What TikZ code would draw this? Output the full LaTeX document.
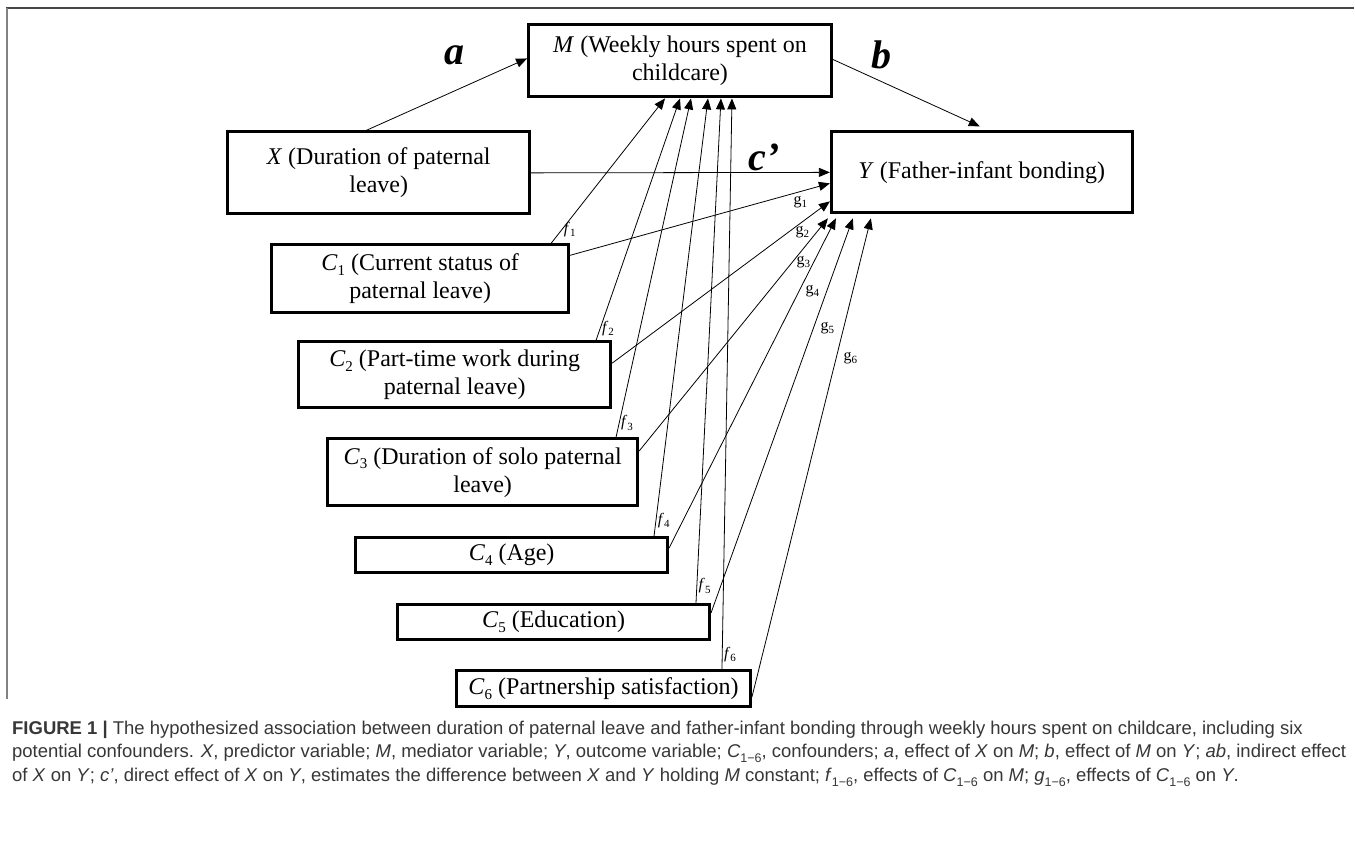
\documentclass[tikz,border=0pt]{standalone}
\usepackage{fontspec}
\setmainfont{Liberation Serif}
\newfontfamily\capfont{Liberation Sans}
\usetikzlibrary{arrows.meta,calc}
\newcommand{\sbs}[1]{\raisebox{-0.2em}{\fontsize{15}{15}\selectfont #1}}
\newcommand{\sbl}[1]{\raisebox{-0.2em}{\fontsize{11}{11}\selectfont #1}}
\newcommand{\csb}[1]{\raisebox{-0.25em}{\fontsize{12.5}{12.5}\selectfont #1}}
\definecolor{captxt}{RGB}{55,55,55}
\definecolor{frametop}{RGB}{70,70,70}
\definecolor{frameleft}{RGB}{130,130,130}
\begin{document}
\begin{tikzpicture}[x=1pt,y=-1pt,
  box/.style={draw, line width=3pt, inner sep=0pt, align=center, font=\fontsize{24}{28}\selectfont},
  arr/.style={line width=0.8pt, -{Triangle[length=11pt,width=9pt]}},
  big/.style={font=\fontsize{40}{40}\selectfont\bfseries\itshape, inner sep=0pt},
  sml/.style={font=\fontsize{16}{16}\selectfont, inner sep=0pt},
  flab/.style={sml, anchor=west, xshift=1.5pt},
  captext/.style={font=\capfont\fontsize{18.5}{20}\selectfont, text=captxt, inner sep=0pt, anchor=base west}]
\fill[white] (0,0) rectangle (1355,850);
\draw[line width=2pt, frametop] (6,8) -- (1355,8);
\draw[line width=2pt, frameleft] (7,8) -- (7,700);

% boxes
\node[box, minimum width=303pt, minimum height=72pt] (M) at (680.5,61) {\textit{M} (Weekly hours spent on\\childcare)};
\node[box, minimum width=301pt, minimum height=81pt] (Y) at (982.5,172.5) {\textit{Y} (Father-infant bonding)};
\node[box, minimum width=302pt, minimum height=82pt] (X) at (379,173) {\textit{X} (Duration of paternal\\leave)};
\node[box, minimum width=297pt, minimum height=68pt] (C1) at (420.5,279) {\textit{C}\sbs{1} (Current status of\\paternal leave)};
\node[box, minimum width=312pt, minimum height=66pt] (C2) at (455,375) {\textit{C}\sbs{2} (Part-time work during\\paternal leave)};
\node[box, minimum width=310pt, minimum height=67pt] (C3) at (483,472.5) {\textit{C}\sbs{3} (Duration of solo paternal\\leave)};
\node[box, minimum width=312pt, minimum height=35pt] (C4) at (512,555.5) {\textit{C}\sbs{4} (Age)};
\node[box, minimum width=312pt, minimum height=35pt] (C5) at (554,622.5) {\textit{C}\sbs{5} (Education)};
\node[box, minimum width=294pt, minimum height=36pt] (C6) at (604,689) {\textit{C}\sbs{6} (Partnership satisfaction)};

% main paths
\draw[arr] ([xshift=140pt]X.north west) -- ([yshift=-35pt]M.north west);
\draw[arr] ([yshift=-36pt]M.north east) -- ([xshift=150pt,yshift=4pt]Y.north west);
\draw[arr] (X.east) -- (Y.west);

% f paths
\draw[arr] ([xshift=-19pt]C1.north east) -- node[flab, pos=0.095] (f1) {\textit{f}\sbl{1}} ([xshift=138pt]M.south west);
\draw[arr] ([xshift=-16pt]C2.north east) -- node[flab, pos=0.05] (f2) {\textit{f}\sbl{2}} ([xshift=153pt]M.south west);
\draw[arr] ([xshift=-23pt]C3.north east) -- node[flab, pos=0.042] (f3) {\textit{f}\sbl{3}} ([xshift=164pt]M.south west);
\draw[arr] ([xshift=-15pt]C4.north east) -- node[flab, pos=0.036] (f4) {\textit{f}\sbl{4}} ([xshift=181pt]M.south west);
\draw[arr] ([xshift=-15pt]C5.north east) -- node[flab, pos=0.034] (f5) {\textit{f}\sbl{5}} ([xshift=194pt]M.south west);
\draw[arr] ([xshift=-30pt]C6.north east) -- node[flab, pos=0.025] (f6) {\textit{f}\sbl{6}} ([xshift=205pt]M.south west);

% g paths
\draw[arr] ([yshift=-12pt]C1.north east) -- ([yshift=-53pt]Y.north west);
\draw[arr] ([yshift=-23pt]C2.north east) -- ([yshift=-71pt]Y.north west);
\draw[arr] ([yshift=-14pt]C3.north east) -- ([xshift=-2pt,yshift=-4pt]Y.south west);
\draw[arr] ([yshift=-12pt]C4.north east) -- ([xshift=6pt,yshift=-4pt]Y.south west);
\draw[arr] ([yshift=-10pt]C5.north east) -- ([xshift=23pt,yshift=-4pt]Y.south west);
\draw[arr] ([yshift=-28pt]C6.north east) -- ([xshift=41pt,yshift=-4pt]Y.south west);

% labels
\node[big] (la) at (455,55) {a};
\node[big] (lb) at (882,55) {b};
\node[big] (lc) at (765,158) {c’};
\node[sml] (g1) at (801,202) {g\sbl{1}};
\node[sml] (g2) at (803,232) {g\sbl{2}};
\node[sml] (g3) at (804,262) {g\sbl{3}};
\node[sml] (g4) at (813,291) {g\sbl{4}};
\node[sml] (g5) at (828,328) {g\sbl{5}};
\node[sml] (g6) at (851,358) {g\sbl{6}};

% caption
\node[captext] (cap1) at (12,735) {\textbf{FIGURE 1 |} The hypothesized association between duration of paternal leave and father-infant bonding through weekly hours spent on childcare, including six};
\node[captext] (cap2) at (12,758.5) {potential confounders. \textit{X}, predictor variable; \textit{M}, mediator variable; \textit{Y}, outcome variable; \textit{C}\csb{1−6}, confounders; \textit{a}, effect of \textit{X} on \textit{M}; \textit{b}, effect of \textit{M} on \textit{Y}; \textit{ab}, indirect effect};
\node[captext] (cap3) at (12,782) {of \textit{X} on \textit{Y}; \textit{c’}, direct effect of \textit{X} on \textit{Y}, estimates the difference between \textit{X} and \textit{Y} holding \textit{M} constant; \textit{f}\csb{1−6}, effects of \textit{C}\csb{1−6} on \textit{M}; \textit{g}\csb{1−6}, effects of \textit{C}\csb{1−6} on \textit{Y}.};
\end{tikzpicture}
\end{document}
